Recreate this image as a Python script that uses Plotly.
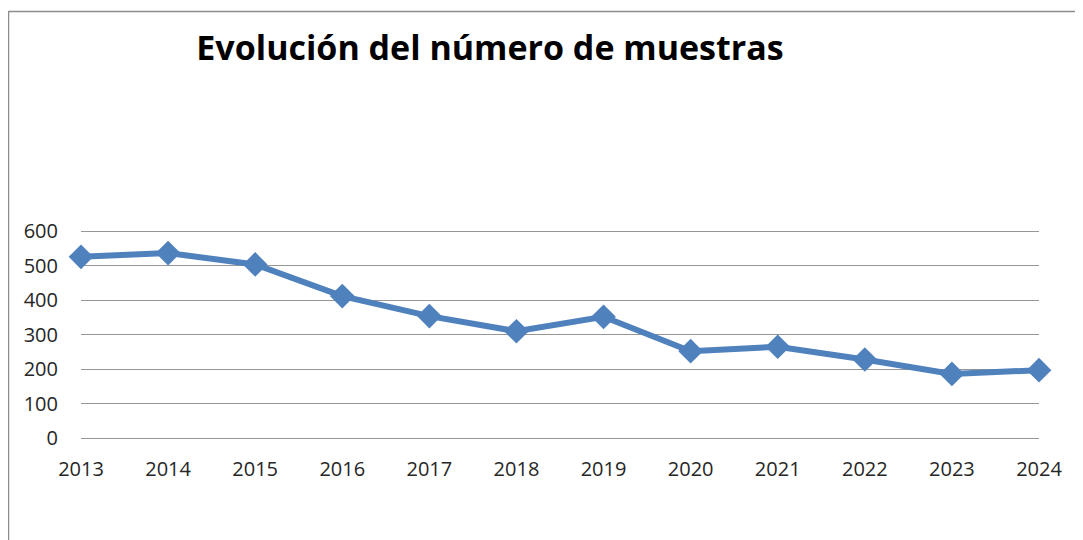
import plotly.graph_objects as go

years = [2013, 2014, 2015, 2016, 2017, 2018, 2019, 2020, 2021, 2022, 2023, 2024]
muestras = [526, 537, 504, 412, 354, 310, 352, 252, 265, 228, 186, 197]
y_ticks = [0, 100, 200, 300, 400, 500, 600]
title_text = "Evolución del número de muestras"

# The page body adds an 8 px offset; layout below is in figure coordinates.
OFF = 8
W, H = 1083, 540
ml, mt = 81 - OFF, 230 - OFF
mr = W - (1039 - OFF)
mb = H - (438 - OFF)

fig = go.Figure()
fig.add_trace(go.Scatter(
    x=years, y=muestras, mode="lines+markers",
    line=dict(color="#4F81BD", width=6),
    marker=dict(symbol="diamond", size=19, color="#4F81BD"),
    cliponaxis=False,
    showlegend=False,
))

pw = W - ml - mr
ph = H - mt - mb
def px_to_paper_x(px):
    return (px - OFF - ml) / pw
def px_to_paper_y(py):
    return (H - mb - (py - OFF)) / ph

border = "#8C8C8C"
shapes = [
    dict(type="line", xref="paper", yref="paper",
         x0=px_to_paper_x(8.5), x1=px_to_paper_x(8.5),
         y0=px_to_paper_y(11), y1=px_to_paper_y(560),
         line=dict(color=border, width=1.5)),
    dict(type="line", xref="paper", yref="paper",
         x0=px_to_paper_x(8.5), x1=px_to_paper_x(1100),
         y0=px_to_paper_y(11.5), y1=px_to_paper_y(11.5),
         line=dict(color=border, width=1.5)),
]

fig.update_layout(
    width=W, height=H,
    margin=dict(l=ml, r=mr, t=mt, b=mb, pad=0),
    paper_bgcolor="white", plot_bgcolor="white",
    font=dict(family="Open Sans", size=20, color="#262626"),
    title=dict(text="<b>" + title_text + "</b>", xref="container", yref="container",
               x=(490 - OFF) / W, y=1 - (48 - OFF) / H, xanchor="center", yanchor="middle",
               font=dict(family="Open Sans", size=34, color="#000000")),
    shapes=shapes,
    xaxis=dict(range=[2013, 2024], tickmode="array", tickvals=years,
               ticktext=[str(y) for y in years], showgrid=False, zeroline=False,
               showline=False, ticks="", ticklabelstandoff=17),
    yaxis=dict(range=[0, 604], tickmode="array", tickvals=y_ticks,
               showgrid=True, gridcolor="#969696", gridwidth=1,
               zeroline=True, zerolinecolor="#969696", zerolinewidth=1,
               showline=False, ticks="", ticklabelstandoff=22),
)

fig.write_html("out.html")
